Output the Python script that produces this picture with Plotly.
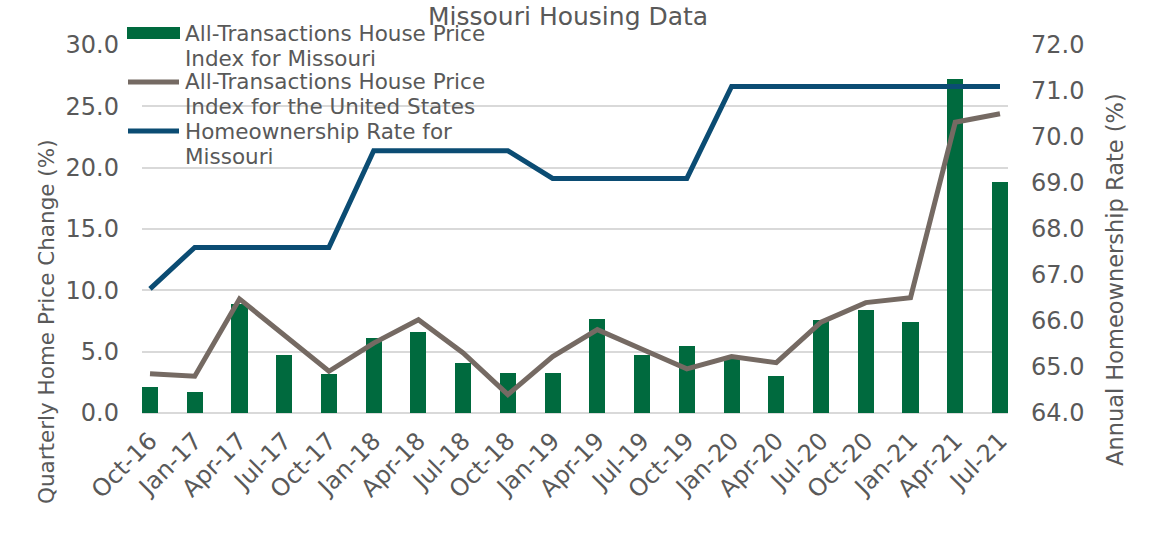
import plotly.graph_objects as go

# Quarterly observations
quarters = ["Oct-16", "Jan-17", "Apr-17", "Jul-17", "Oct-17", "Jan-18", "Apr-18",
            "Jul-18", "Oct-18", "Jan-19", "Apr-19", "Jul-19", "Oct-19", "Jan-20",
            "Apr-20", "Jul-20", "Oct-20", "Jan-21", "Apr-21", "Jul-21"]

# All-Transactions House Price Index, quarterly change (%)
hpi_missouri = [2.1, 1.7, 8.9, 4.7, 3.2, 6.1, 6.6, 4.1, 3.3, 3.3,
                7.7, 4.7, 5.5, 4.6, 3.0, 7.6, 8.4, 7.4, 27.2, 18.8]
hpi_us = [3.2, 3.0, 9.3, 6.3, 3.4, 5.7, 7.6, 4.9, 1.5, 4.6,
          6.8, 5.2, 3.6, 4.6, 4.1, 7.4, 9.0, 9.4, 23.7, 24.4]

# Annual homeownership rate for Missouri (%)
homeownership = [66.7, 67.6, 67.6, 67.6, 67.6, 69.7, 69.7, 69.7, 69.7, 69.1,
                 69.1, 69.1, 69.1, 71.1, 71.1, 71.1, 71.1, 71.1, 71.1, 71.1]

legend_labels = [
    ("All-Transactions House Price", "Index for Missouri"),
    ("All-Transactions House Price", "Index for the United States"),
    ("Homeownership Rate for", "Missouri"),
]

GREEN = "#006A3E"
TAUPE = "#756A63"
NAVY = "#0B4C73"
TEXT = "#595959"
GRID = "#D9D9D9"
FONT = "DejaVu Sans, Verdana, sans-serif"

W, H = 1152, 548
L, R, T, B = 142, 1008, 45, 413  # plot area in pixels


def px_x(px):
    return (px - L) / (R - L)


def px_y(py):
    return (B - py) / (B - T)


fig = go.Figure()
fig.add_trace(go.Bar(x=quarters, y=hpi_missouri, marker_color=GREEN,
                     marker_line_width=0, width=0.36, name=legend_labels[0][0]))
fig.add_trace(go.Scatter(x=quarters, y=hpi_us, mode="lines",
                         line=dict(color=TAUPE, width=5), name=legend_labels[1][0]))
fig.add_trace(go.Scatter(x=quarters, y=homeownership, mode="lines", yaxis="y2",
                         line=dict(color=NAVY, width=5), name=legend_labels[2][0]))

shapes = []
annotations = []

# Legend keys and labels
key_rows = [33, 82, 131]
for i, (row, (l1, l2)) in enumerate(zip(key_rows, legend_labels)):
    if i == 0:
        shapes.append(dict(type="rect", xref="paper", yref="paper",
                           x0=px_x(127), x1=px_x(180), y0=px_y(row - 6), y1=px_y(row + 6),
                           fillcolor=GREEN, line_width=0, layer="above"))
    else:
        col = TAUPE if i == 1 else NAVY
        shapes.append(dict(type="line", xref="paper", yref="paper",
                           x0=px_x(128), x1=px_x(179), y0=px_y(row), y1=px_y(row),
                           line=dict(color=col, width=5), layer="above"))
    annotations.append(dict(text=l1, xref="paper", yref="paper", x=px_x(183), y=px_y(row),
                            xanchor="left", yanchor="middle", showarrow=False,
                            font=dict(size=21.5, color=TEXT, family=FONT)))
    annotations.append(dict(text=l2, xref="paper", yref="paper", x=px_x(183), y=px_y(row + 25),
                            xanchor="left", yanchor="middle", showarrow=False,
                            font=dict(size=21.5, color=TEXT, family=FONT)))

# Title and axis titles
annotations.append(dict(text="Missouri Housing Data", xref="paper", yref="paper",
                        x=px_x(568), y=px_y(0), xanchor="center", yanchor="top",
                        showarrow=False, font=dict(size=25, color=TEXT, family=FONT)))
annotations.append(dict(text="Quarterly Home Price Change (%)", xref="paper", yref="paper",
                        x=px_x(46), y=px_y(322), xanchor="center", yanchor="middle",
                        textangle=-90, showarrow=False,
                        font=dict(size=21.5, color=TEXT, family=FONT)))
annotations.append(dict(text="Annual Homeownership Rate (%)", xref="paper", yref="paper",
                        x=px_x(1115), y=px_y(280), xanchor="center", yanchor="middle",
                        textangle=-90, showarrow=False,
                        font=dict(size=22.5, color=TEXT, family=FONT)))

fig.update_layout(
    width=W, height=H,
    margin=dict(l=L, r=W - R, t=T, b=H - B, pad=0),
    paper_bgcolor="white", plot_bgcolor="white",
    showlegend=False,
    bargap=0,
    font=dict(family=FONT, color=TEXT),
    xaxis=dict(type="category", range=[-0.179, 19.179], tickangle=-45,
               showgrid=False, showline=False, zeroline=False, ticks="",
               tickfont=dict(size=24, color=TEXT), ticklabelstandoff=8),
    yaxis=dict(range=[0, 30], dtick=5, tickformat=".1f", showgrid=True,
               gridcolor=GRID, gridwidth=1.5, zeroline=True, zerolinecolor=GRID,
               zerolinewidth=1.5, showline=False, ticks="",
               tickfont=dict(size=24, color=TEXT), ticklabelstandoff=22),
    yaxis2=dict(range=[64, 72], dtick=1, tickformat=".1f", overlaying="y", side="right",
                showgrid=False, zeroline=False, showline=False, ticks="",
                tickfont=dict(size=24, color=TEXT), ticklabelstandoff=22),
    shapes=shapes,
    annotations=annotations,
)

fig.write_html("out.html")
